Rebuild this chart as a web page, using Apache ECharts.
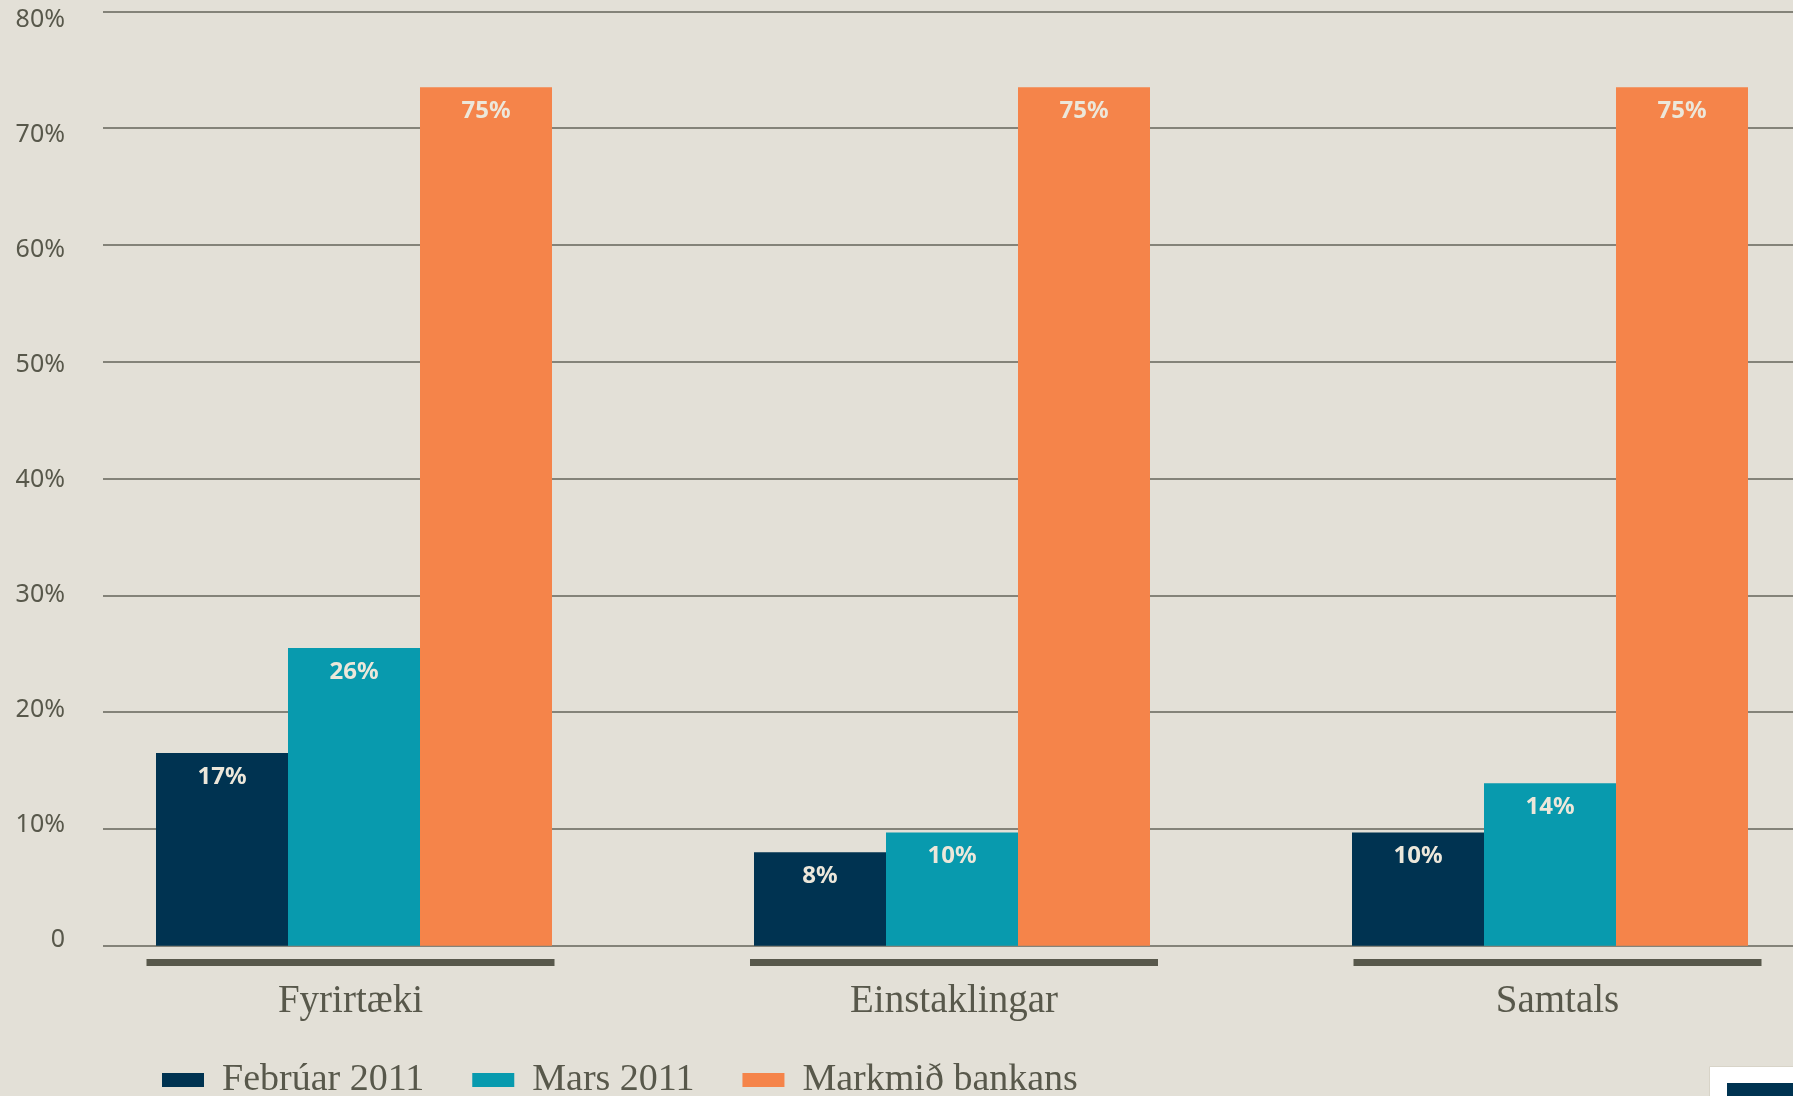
<!DOCTYPE html>
<html>
<head>
<meta charset="utf-8">
<script src="https://cdn.jsdelivr.net/npm/echarts@6/dist/echarts.min.js"></script>
<style>
  html, body { margin: 0; padding: 0; background: #e3e0d7; }
  #chart { width: 1793px; height: 1096px; }
</style>
</head>
<body>
<div id="chart"></div>
<script>
// ---- data ----
const categories = ['Fyrirtæki', 'Einstaklingar', 'Samtals'];
const seriesNames = ['Febrúar 2011', 'Mars 2011', 'Markmið bankans'];
const febValues = [16.5, 8.0, 9.7];
const marValues = [25.5, 9.7, 13.9];
const targetValues = [73.5, 73.5, 73.5];
const febLabels = ['17%', '8%', '10%'];
const marLabels = ['26%', '10%', '14%'];
const targetLabels = ['75%', '75%', '75%'];
const yTickLabels = ['0', '10%', '20%', '30%', '40%', '50%', '60%', '70%', '80%'];

const colors = ['#003351', '#089aae', '#f5844a'];
const textGrey = '#58584b';
const serif = '"Liberation Serif", "DejaVu Serif", serif';
const sans = '"Noto Sans", "Open Sans", sans-serif';

const W = 1793;
// bar layout: category i centred at barX0 + i * barBand
const barX0 = 354, barBand = 598;
// label layout
const lblX0 = 350.5, lblBand = 603.5;

const chart = echarts.init(document.getElementById('chart'), null, { renderer: 'canvas' });

function barSeries(name, values, labels, color) {
  return {
    name: name,
    type: 'bar',
    xAxisIndex: 1,
    yAxisIndex: 1,
    data: values.map((v, i) => [i, v]),
    barWidth: 132,
    barGap: '0%',
    clip: false,
    itemStyle: { color: color },
    label: {
      show: true,
      position: 'insideTop',
      distance: 12,
      color: '#ece7da',
      fontFamily: sans,
      fontWeight: 'bold',
      fontSize: 24,
      formatter: p => labels[p.dataIndex]
    },
    emphasis: { disabled: true }
  };
}

const option = {
  backgroundColor: '#e3e0d7',
  animation: false,
  grid: [
    // 0: gridlines
    { left: 103, top: 11.4, right: 0, height: 934.3 },
    // 1: bars
    { left: barX0 - barBand / 2, top: 11.4, right: 0, height: 934.3 },
    // 2: category labels
    { left: lblX0, top: 19.4, right: 0, height: 920 },
    // 3: y labels
    { left: 103, top: 19.4, right: 0, height: 920 }
  ],
  xAxis: [
    { gridIndex: 0, type: 'category', data: categories, show: false },
    {
      gridIndex: 1, type: 'value', show: false,
      min: -0.5, max: -0.5 + (W - (barX0 - barBand / 2)) / barBand,
      splitLine: { show: false }
    },
    {
      gridIndex: 2, type: 'value',
      min: 0, max: (W - lblX0) / lblBand, interval: 1,
      axisLine: { show: false }, axisTick: { show: false }, splitLine: { show: false },
      axisLabel: {
        margin: 19.6,
        showMaxLabel: false,
        formatter: v => {
          const name = categories[Math.round(v)];
          return name ? '{u| }\n{t|' + name + '}' : '';
        },
        rich: {
          u: { width: 408, height: 7, backgroundColor: '#58584b', fontSize: 1, lineHeight: 7 },
          t: { fontFamily: serif, fontSize: 39, color: textGrey, lineHeight: 71, align: 'center' }
        }
      }
    },
    { gridIndex: 3, type: 'category', data: categories, show: false }
  ],
  yAxis: [
    {
      gridIndex: 0, type: 'value', min: 0, max: 80, interval: 10,
      axisLine: { show: false }, axisTick: { show: false }, axisLabel: { show: false },
      splitLine: { show: true, lineStyle: { color: '#64645a', width: 1.5 } }
    },
    { gridIndex: 1, type: 'value', min: 0, max: 80, interval: 10, show: false, splitLine: { show: false } },
    { gridIndex: 2, type: 'value', min: 0, max: 80, interval: 10, show: false, splitLine: { show: false } },
    {
      gridIndex: 3, type: 'value', min: 0, max: 80, interval: 10,
      axisLine: { show: false }, axisTick: { show: false }, splitLine: { show: false },
      axisLabel: {
        margin: 38,
        color: textGrey,
        fontFamily: sans,
        fontSize: 25,
        formatter: v => yTickLabels[Math.round(v / 10)]
      }
    }
  ],
  legend: {
    left: 162,
    top: 1061,
    padding: 0,
    icon: 'rect',
    itemWidth: 42,
    itemHeight: 14,
    itemGap: 48,
    data: seriesNames,
    textStyle: {
      fontFamily: serif,
      fontSize: 38,
      color: textGrey,
      lineHeight: 38,
      padding: [0, 0, 0, 13]
    },
    selectedMode: false
  },
  graphic: [
    { type: 'rect', left: 1709, top: 1066, shape: { width: 84, height: 30 }, style: { fill: '#ffffff', stroke: '#d8d4c8', lineWidth: 1 } },
    { type: 'rect', left: 1727, top: 1083, shape: { width: 66, height: 13 }, style: { fill: '#003351' } }
  ],
  series: [
    barSeries(seriesNames[0], febValues, febLabels, colors[0]),
    barSeries(seriesNames[1], marValues, marLabels, colors[1]),
    barSeries(seriesNames[2], targetValues, targetLabels, colors[2])
  ]
};

chart.setOption(option);
</script>
</body>
</html>
